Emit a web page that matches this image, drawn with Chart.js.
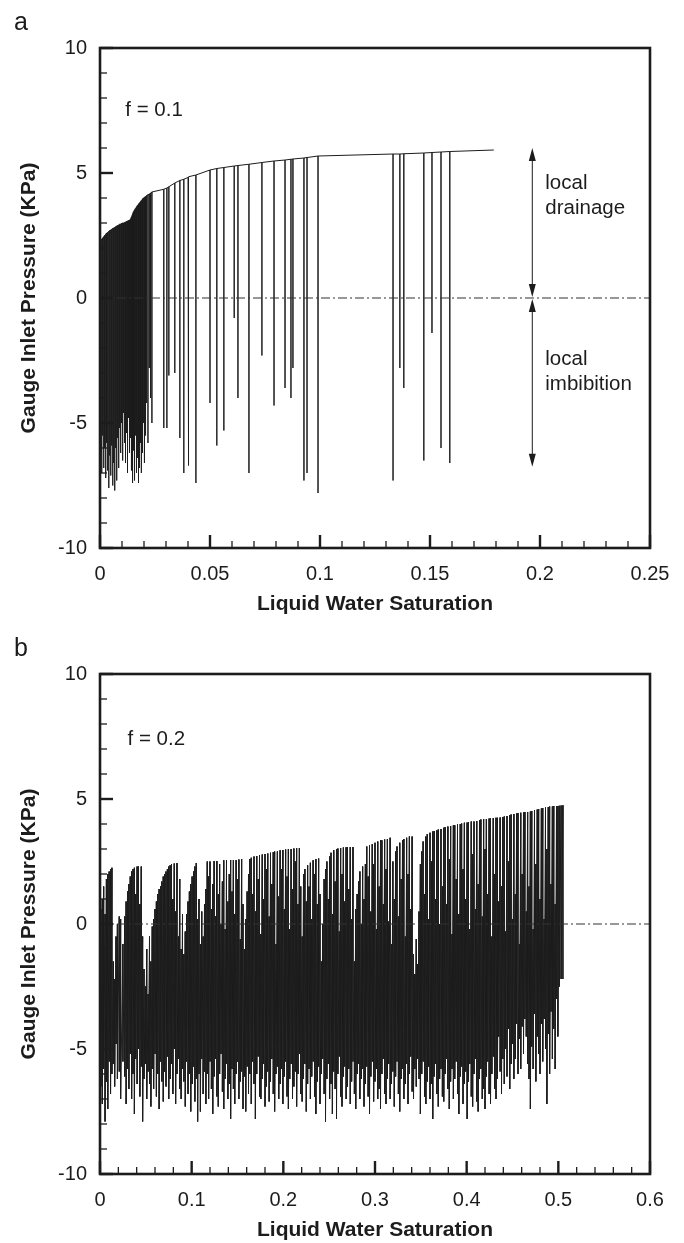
<!DOCTYPE html>
<html><head><meta charset="utf-8">
<script src="https://cdn.jsdelivr.net/npm/chart.js@4.4.1/dist/chart.umd.min.js"></script>
<style>
html,body{margin:0;padding:0;background:#fff;}
#wrap{position:relative;width:684px;height:1243px;overflow:hidden;}
.panel{position:absolute;left:0;width:684px;height:617px;}
canvas{display:block;}
</style></head><body>
<div id="wrap">
<div class="panel" style="top:0"><canvas id="c1" width="684" height="617"></canvas></div>
<div class="panel" style="top:626px"><canvas id="c2" width="684" height="617"></canvas></div>
</div>
<script>
// ---------- Panel a (f = 0.1) ----------
const aSat  = [0.0003,0.0008,0.0012,0.0017,0.0021,0.0026,0.0030,0.0035,0.0040,0.0044,0.0049,0.0053,0.0058,0.0062,0.0067,0.0071,0.0076,0.0080,0.0085,0.0089,0.0094,0.0098,0.0103,0.0107,0.0112,0.0116,0.0121,0.0125,0.0130,0.0134,0.0139,0.0143,0.0148,0.0152,0.0157,0.0161,0.0166,0.0170,0.0175,0.0179,0.0184,0.0188,0.0193,0.0197,0.0202,0.0207,0.0212,0.0218,0.0224,0.0230,0.0236,
  0.0290,0.0304,0.0313,0.0340,0.0363,0.0381,0.0400,0.0404,0.0436,0.0500,0.0531,0.0563,0.0610,0.0627,0.0677,0.0736,0.0791,0.0841,0.0868,0.0877,0.0927,0.0941,0.0991,0.1332,0.1363,0.1381,0.1472,0.1509,0.1550,0.1590,0.1790];
const aPeak = [2.30,2.35,2.40,2.45,2.50,2.55,2.60,2.62,2.66,2.70,2.72,2.75,2.78,2.80,2.82,2.85,2.88,2.90,2.92,2.95,2.96,2.98,3.00,3.00,3.02,3.04,3.06,3.08,3.10,3.12,3.15,3.25,3.35,3.45,3.52,3.58,3.64,3.70,3.75,3.80,3.85,3.90,3.95,4.00,4.03,4.06,4.10,4.13,4.16,4.20,4.24,
  4.35,4.40,4.45,4.60,4.70,4.75,4.82,4.85,4.92,5.12,5.18,5.22,5.28,5.30,5.35,5.42,5.48,5.52,5.55,5.56,5.60,5.62,5.68,5.76,5.76,5.77,5.80,5.82,5.84,5.86,5.92];
const aMin  = [-6.2,-7.0,-5.5,-6.8,-6.0,-7.2,-5.8,-6.9,-7.6,-6.3,-7.1,-5.9,-7.5,-6.6,-7.7,-6.0,-7.3,-5.6,-6.8,-5.2,-6.2,-5.0,-6.5,-4.6,-5.8,-6.6,-5.4,-7.0,-4.8,-6.2,-5.6,-6.9,-7.4,-6.1,-7.3,-5.5,-7.0,-6.4,-7.4,-6.8,-5.8,-7.0,-6.2,-5.0,-6.6,-5.5,-4.2,-5.8,-2.8,-4.0,-5.0,
  -5.2,-5.2,-3.1,-3.0,-5.6,-7.0,-1.4,-6.7,-7.4,-4.2,-5.9,-5.3,-0.8,-4.0,-7.0,-2.3,-4.3,-3.6,-4.0,-2.8,-7.3,-7.0,-7.8,-7.3,-2.8,-3.6,-6.5,-1.4,-6.0,-6.6,null];

// ---------- Panel b (f = 0.2) ----------
const bSat = [
 0.0010,0.0025,0.0040,0.0055,0.0070,0.0085,0.0100,0.0115,0.0130,0.0145,0.0160,0.0175,0.0190,0.0210,0.0225,
 0.0250,0.0270,0.0285,0.0300,0.0315,0.0330,0.0345,0.0360,0.0375,0.0390,0.0405,0.0420,0.0435,0.0450,0.0465,
 0.0480,0.0495,0.0510,0.0525,0.0540,0.0555,
 0.0570,0.0585,0.0600,0.0615,0.0630,0.0645,0.0660,0.0675,0.0690,0.0705,0.0720,0.0735,0.0750,0.0765,0.0780,0.0795,0.0810,0.0825,0.0840,0.0855,0.0870,0.0885,0.0900,
 0.0915,0.0930,0.0945,0.0960,0.0975,0.0990,0.1005,0.1020,0.1035,0.1050,0.1065,0.1080,0.1095,0.1110,
 0.1125,0.1140,0.1155,0.1170,0.1185,0.1200,0.1215,0.1230,0.1245,0.1260,0.1275,0.1290,0.1305,0.1320,0.1335,0.1350,0.1365,0.1380,0.1395,0.1410,0.1425,0.1440,0.1455,0.1470,0.1485,0.1500,0.1515,0.1530,0.1545,0.1560,
 0.1575,0.1590,0.1605,0.1620,0.1635,0.1650,0.1665,0.1680,0.1695,0.1710,0.1725,0.1740,0.1755,0.1770,0.1785,0.1800,0.1815,0.1830,0.1845,0.1860,0.1875,0.1890,0.1905,0.1920,0.1935,0.1950,0.1965,0.1980,0.1995,0.2010,0.2025,0.2040,0.2055,0.2070,0.2085,0.2100,0.2115,0.2130,0.2145,0.2160,0.2175,0.2190,
 0.2205,0.2220,0.2235,0.2250,0.2265,0.2280,0.2295,0.2310,0.2325,0.2340,0.2355,0.2370,0.2385,0.2400,0.2415,
 0.2430,0.2445,0.2460,0.2475,0.2490,0.2505,0.2520,0.2535,0.2550,0.2565,0.2580,0.2595,0.2610,0.2625,0.2640,0.2655,0.2670,0.2685,0.2700,0.2715,0.2730,0.2745,0.2760,
 0.2775,0.2790,0.2805,0.2820,0.2835,0.2850,0.2865,0.2880,0.2895,
 0.2910,0.2925,0.2940,0.2955,0.2970,0.2985,0.3000,0.3015,0.3030,0.3045,0.3060,0.3075,0.3090,0.3105,0.3120,0.3135,0.3150,0.3165,
 0.3180,0.3195,0.3210,0.3225,0.3240,0.3255,0.3270,0.3285,0.3300,0.3315,0.3330,0.3345,0.3360,0.3375,0.3390,0.3405,
 0.3420,0.3435,0.3450,0.3465,
 0.3480,0.3495,0.3510,0.3525,0.3540,0.3555,0.3570,0.3585,0.3600,0.3615,0.3630,0.3645,0.3660,0.3675,0.3690,0.3705,0.3720,
 0.3735,0.3750,0.3765,0.3780,0.3795,0.3810,0.3825,0.3840,0.3855,0.3870,0.3885,0.3900,0.3915,0.3930,0.3945,0.3960,0.3975,0.3990,0.4005,0.4020,0.4035,0.4050,0.4065,0.4080,0.4095,
 0.4110,0.4125,0.4140,0.4155,0.4170,0.4185,0.4200,0.4215,0.4230,0.4245,0.4260,0.4275,0.4290,0.4305,0.4320,0.4335,0.4350,0.4365,0.4380,0.4395,0.4410,0.4425,0.4440,0.4455,0.4470,0.4485,0.4500,
 0.4515,0.4530,0.4545,0.4560,0.4575,0.4590,0.4605,0.4620,0.4635,0.4650,0.4665,0.4680,0.4695,0.4710,0.4725,0.4740,0.4755,0.4770,0.4785,0.4800,0.4815,0.4830,0.4845,0.4860,0.4875,0.4890,0.4905,0.4920,0.4935,0.4950,0.4965,0.4980,0.4995,0.5010,0.5030,0.5050];
const bPeak = [
 0.6,1.0,1.5,0.4,1.8,2.0,2.1,2.2,2.25,-1.5,-2.2,-0.5,0.0,0.3,0.2,
 -0.8,0.3,0.9,1.3,1.6,1.9,2.1,2.2,2.25,1.2,2.3,2.3,0.8,2.3,-0.5,
 -1.8,-2.5,-1.0,-2.8,-0.5,-1.5,
 -0.1,0.2,0.6,0.9,1.2,1.4,1.5,1.7,1.9,2.0,2.1,2.2,2.3,2.35,2.4,1.0,2.42,0.5,2.44,-0.5,1.8,-1.0,0.4,
 -1.2,-0.3,0.4,0.9,1.3,1.6,1.9,2.1,2.3,2.44,0.2,1.0,-0.8,0.5,
 -0.5,0.8,1.4,2.5,1.9,2.5,0.6,1.6,2.52,0.3,2.52,1.2,2.4,0.0,1.7,2.55,-0.2,2.55,0.9,2.0,2.56,1.3,2.56,0.4,2.56,1.8,2.58,-0.6,2.6,0.8,
 -1.0,0.2,1.3,2.0,2.6,2.65,1.2,2.7,0.5,2.72,1.8,2.75,-0.4,2.78,1.0,2.8,2.2,2.82,0.3,2.85,1.6,2.88,2.9,-0.8,2.9,1.1,2.95,2.2,2.96,0.6,2.98,1.9,3.0,-0.2,3.0,1.4,3.02,2.5,3.03,0.8,3.04,1.5,
 -0.5,2.0,2.2,0.9,2.35,1.5,2.45,0.2,2.55,2.0,2.6,0.8,2.62,1.2,-1.5,
 0.0,1.8,2.2,2.5,1.0,2.7,2.85,0.4,2.95,1.7,3.0,3.02,-0.3,3.04,2.0,3.06,0.9,3.07,3.08,1.4,3.08,0.2,3.08,
 -1.5,0.6,1.2,1.7,2.1,0.0,2.3,1.0,2.4,
 3.1,1.9,3.15,0.5,3.2,2.4,3.25,-0.2,3.3,1.5,3.35,3.35,0.8,3.38,2.2,3.4,0.1,3.45,
 -0.8,2.5,1.0,2.9,3.1,0.3,3.25,1.8,3.35,3.4,-0.5,3.45,2.0,3.5,0.6,3.5,
 -1.2,-2.0,-0.6,-1.6,
 0.5,2.4,2.9,3.3,1.2,3.5,3.6,0.2,3.65,2.5,3.7,3.72,1.0,3.75,3.78,0.0,3.8,
 1.5,3.85,3.88,0.8,3.9,2.6,3.92,-0.4,3.95,3.95,1.8,3.98,0.4,4.0,4.02,2.2,4.05,1.0,4.06,4.08,-0.2,4.1,2.8,4.1,0.6,
 4.12,1.6,4.15,4.18,0.3,4.2,3.0,4.2,1.2,4.22,4.22,-0.5,4.24,2.0,4.25,4.25,0.9,4.26,1.5,4.28,4.3,-0.3,4.32,2.5,4.35,4.38,0.2,
 4.4,1.2,4.42,4.44,-0.8,4.45,2.0,4.46,4.48,0.5,4.48,1.5,4.5,4.52,-0.2,4.55,2.4,4.58,4.6,1.0,4.62,4.64,0.2,4.66,3.0,4.68,4.7,1.6,4.7,4.72,0.8,4.72,4.72,4.73,4.74,4.75];
const bMin = [
 -6.5,-7.2,-5.8,-7.9,-6.3,-7.4,-5.5,-6.8,-6.0,-5.6,-6.5,-4.8,-6.2,-5.9,-7.0,
 -5.5,-6.1,-7.2,-5.8,-6.6,-5.2,-7.0,-6.0,-7.6,-5.4,-6.4,-5.0,-6.9,-5.7,-7.9,
 -6.2,-5.6,-7.0,-5.9,-6.4,-7.3,
 -5.8,-6.6,-5.2,-6.9,-6.0,-7.4,-5.5,-6.3,-7.1,-5.9,-6.5,-5.3,-7.0,-6.2,-5.6,-6.8,-5.0,-7.2,-6.0,-5.4,-6.6,-7.0,-5.8,
 -6.3,-7.3,-5.5,-6.8,-6.0,-7.5,-6.4,-5.7,-7.1,-6.2,-7.9,-6.0,-7.5,-5.4,
 -6.8,-5.9,-7.2,-6.0,-7.0,-5.5,-6.6,-7.6,-6.1,-5.4,-6.9,-7.3,-6.0,-5.2,-6.7,-7.4,-6.2,-5.6,-7.0,-6.4,-7.8,-5.8,-6.6,-7.2,-6.0,-5.5,-7.0,-6.3,-5.9,-7.4,
 -6.1,-7.5,-5.7,-6.8,-6.0,-7.2,-5.5,-6.4,-7.8,-6.0,-5.3,-6.9,-7.0,-6.2,-5.6,-7.3,-6.5,-5.9,-7.1,-6.3,-5.4,-6.8,-7.5,-6.0,-5.7,-7.0,-6.4,-5.8,-7.2,-6.1,-5.5,-6.9,-7.4,-6.2,-5.6,-7.0,-6.5,-5.9,-7.3,-6.0,-5.2,-6.8,
 -7.1,-6.2,-5.6,-7.5,-6.4,-5.8,-7.0,-6.1,-5.5,-6.9,-7.6,-6.3,-5.7,-7.2,-6.0,
 -5.4,-6.8,-7.9,-6.2,-5.6,-7.0,-6.4,-7.6,-5.9,-6.6,-7.8,-6.0,-5.3,-6.9,-7.3,-6.1,-5.7,-7.0,-6.5,-5.8,-7.2,-6.3,-5.5,
 -6.8,-7.4,-6.0,-5.6,-7.0,-6.2,-5.8,-7.3,-6.4,
 -5.7,-6.9,-7.6,-6.1,-5.5,-7.1,-6.3,-5.8,-7.0,-6.6,-7.4,-6.0,-5.4,-6.8,-7.2,-6.2,-5.6,-7.0,
 -6.4,-5.9,-7.3,-6.1,-5.5,-6.8,-7.5,-6.2,-5.8,-7.0,-6.4,-5.6,-7.2,-6.0,-5.3,-6.7,
 -7.0,-5.8,-6.5,-5.4,
 -6.2,-7.6,-6.0,-5.5,-6.9,-7.2,-6.3,-5.7,-7.0,-6.4,-7.8,-6.1,-5.6,-6.8,-7.3,-6.2,-5.8,
 -6.9,-7.1,-6.0,-5.4,-6.6,-7.4,-6.3,-5.8,-7.0,-6.2,-5.5,-6.8,-7.6,-6.1,-5.7,-7.2,-6.4,-5.9,-7.8,-6.3,-5.6,-6.9,-7.3,-6.0,-5.4,
 -7.1,-7.5,-6.2,-5.8,-7.0,-6.6,-7.4,-6.1,-5.5,-6.8,-7.2,-6.0,-5.3,-6.6,-7.0,-6.2,-4.5,-5.9,-6.8,-5.4,-6.4,-5.0,-6.1,-4.2,-6.6,-5.6,-4.8,
 -6.2,-5.4,-4.0,-6.0,-4.6,-5.8,-4.1,-5.2,-3.8,-4.5,-5.6,-6.2,-7.4,-4.9,-5.8,-3.6,-6.3,-4.5,-5.2,-6.0,-4.0,-5.5,-3.8,-5.0,-7.2,-4.4,-6.0,-3.5,-5.4,-4.2,-5.8,-3.0,-4.5,-2.5,-2.2,-2.2];

// ---------- axes / ticks ----------
const yTicks = [-10, -5, 0, 5, 10];
const yTickLabels = ['-10', '-5', '0', '5', '10'];
const yMinor = [-9,-8,-7,-6,-4,-3,-2,-1,1,2,3,4,6,7,8,9];
const aXTicks = [0, 0.05, 0.1, 0.15, 0.2, 0.25];
const aXTickLabels = ['0', '0.05', '0.1', '0.15', '0.2', '0.25'];
const aXMinor = [0.01,0.02,0.03,0.04,0.06,0.07,0.08,0.09,0.11,0.12,0.13,0.14,0.16,0.17,0.18,0.19,0.21,0.22,0.23,0.24];
const bXTicks = [0, 0.1, 0.2, 0.3, 0.4, 0.5, 0.6];
const bXTickLabels = ['0', '0.1', '0.2', '0.3', '0.4', '0.5', '0.6'];
const bXMinor = [0.02,0.04,0.06,0.08,0.12,0.14,0.16,0.18,0.22,0.24,0.26,0.28,0.32,0.34,0.36,0.38,0.42,0.44,0.46,0.48,0.52,0.54,0.56,0.58];

// annotation arrows (panel a): x, top tip, zero, bottom tip
const arrowX = 0.1965, arrowTop = 6.0, arrowBottom = -6.75;

const FONT = '"Liberation Sans", Arial, Helvetica, sans-serif';
const INK = '#1c1c1c';

function traceA() {
  const d = [];
  for (let i = 0; i < aSat.length; i++) {
    d.push({x: aSat[i], y: aPeak[i]});
    if (aMin[i] !== null) { d.push({x: aSat[i], y: aMin[i]}); d.push({x: aSat[i], y: aPeak[i]}); }
  }
  return d;
}
function traceB() {
  const d = [];
  for (let i = 0; i < bSat.length; i++) {
    d.push({x: bSat[i], y: bPeak[i]});
    d.push({x: bSat[i], y: bMin[i]});
  }
  return d;
}

const decor = {
  id: 'decor',
  afterDatasetsDraw(chart) {
    const o = chart.options.plugins.decor;
    const {ctx, chartArea: a, scales: {x, y}} = chart;
    ctx.save();
    ctx.strokeStyle = INK; ctx.fillStyle = INK;
    const seg = (x1, y1, x2, y2) => { ctx.beginPath(); ctx.moveTo(x1, y1); ctx.lineTo(x2, y2); ctx.stroke(); };
    ctx.lineWidth = 1.3;
    o.xMinor.forEach(v => { const p = x.getPixelForValue(v); seg(p, a.bottom, p, a.bottom - 7); });
    yMinor.forEach(v => { const p = y.getPixelForValue(v); seg(a.left, p, a.left + 7, p); });
    ctx.lineWidth = 2.4;
    o.xMajor.forEach(v => { const p = x.getPixelForValue(v); seg(p, a.bottom, p, a.bottom - 13); });
    yTicks.forEach(v => { const p = y.getPixelForValue(v); seg(a.left, p, a.left + 13, p); });
    ctx.lineWidth = 2.6;
    ctx.strokeRect(a.left, a.top, a.right - a.left, a.bottom - a.top);
    ctx.font = '25px ' + FONT; ctx.textAlign = 'left'; ctx.textBaseline = 'middle';
    ctx.fillText(o.letter, 14, 23);
    ctx.font = '20.5px ' + FONT;
    ctx.fillText(o.fLabel, x.getPixelForValue(o.fPos[0]), y.getPixelForValue(o.fPos[1]));
    if (o.arrows) {
      const ax = x.getPixelForValue(arrowX);
      const y0 = y.getPixelForValue(0), yt = y.getPixelForValue(arrowTop), yb = y.getPixelForValue(arrowBottom);
      ctx.lineWidth = 1;
      seg(ax, yt + 4, ax, y0 - 4);
      seg(ax, y0 + 4, ax, yb - 4);
      const head = (tipY, dir) => { ctx.beginPath(); ctx.moveTo(ax, tipY); ctx.lineTo(ax - 3.5, tipY + dir * 13); ctx.lineTo(ax + 3.5, tipY + dir * 13); ctx.closePath(); ctx.fill(); };
      head(yt, 1); head(y0 - 1, -1); head(y0 + 1, 1); head(yb, -1);
      ctx.font = '20.5px ' + FONT;
      const tx = ax + 13;
      ctx.fillText('local', tx, y.getPixelForValue(4.6));
      ctx.fillText('drainage', tx, y.getPixelForValue(3.6));
      ctx.fillText('local', tx, y.getPixelForValue(-2.45));
      ctx.fillText('imbibition', tx, y.getPixelForValue(-3.45));
    }
    ctx.restore();
  }
};

function makeChart(id, data, xMax, xTicks, xLabels, xMinor, letter, fLabel, fPos, arrows, lw) {
  return new Chart(document.getElementById(id), {
    type: 'line',
    data: {
      datasets: [
        {data: [{x: 0, y: 0}, {x: xMax, y: 0}], borderColor: '#333', borderWidth: 1.2, borderDash: [9, 3, 2, 3], pointRadius: 0, order: 0},
        {data: data, borderColor: INK, borderWidth: lw, pointRadius: 0, tension: 0, order: 1}
      ]
    },
    options: {
      responsive: false, animation: false, parsing: false, normalized: true,
      events: [],
      layout: {padding: {top: 48, right: 34, left: 0, bottom: 0}},
      plugins: {legend: {display: false}, tooltip: {enabled: false},
        decor: {xMinor: xMinor, xMajor: xTicks, letter: letter, fLabel: fLabel, fPos: fPos, arrows: arrows}},
      scales: {
        x: {type: 'linear', min: 0, max: xMax,
          afterBuildTicks: s => { s.ticks = xTicks.map(v => ({value: v})); },
          afterFit: s => { s.height = 69; },
          grid: {display: false, drawTicks: false}, border: {display: false},
          ticks: {padding: 14, color: INK, font: {family: FONT, size: 20}, maxRotation: 0,
            callback: (v, i) => xLabels[i]},
          title: {display: true, text: 'Liquid Water Saturation', color: INK,
            font: {family: FONT, size: 21, weight: 'bold'}, padding: {top: 0, bottom: 0}}
        },
        y: {type: 'linear', min: -10, max: 10,
          afterBuildTicks: s => { s.ticks = yTicks.map(v => ({value: v})); },
          afterFit: s => { s.width = 100; },
          grid: {display: false, drawTicks: false}, border: {display: false},
          ticks: {padding: 13, color: INK, font: {family: FONT, size: 20},
            callback: (v, i) => yTickLabels[i]},
          title: {display: true, text: 'Gauge Inlet Pressure (KPa)', color: INK,
            font: {family: FONT, size: 21, weight: 'bold'}, padding: {top: 17, bottom: 0}}
        }
      }
    },
    plugins: [decor]
  });
}

makeChart('c1', traceA(), 0.25, aXTicks, aXTickLabels, aXMinor, 'a', 'f = 0.1', [0.0115, 7.5], true, 1);
makeChart('c2', traceB(), 0.6, bXTicks, bXTickLabels, bXMinor, 'b', 'f = 0.2', [0.03, 7.4], false, 1);
</script>
</body></html>
